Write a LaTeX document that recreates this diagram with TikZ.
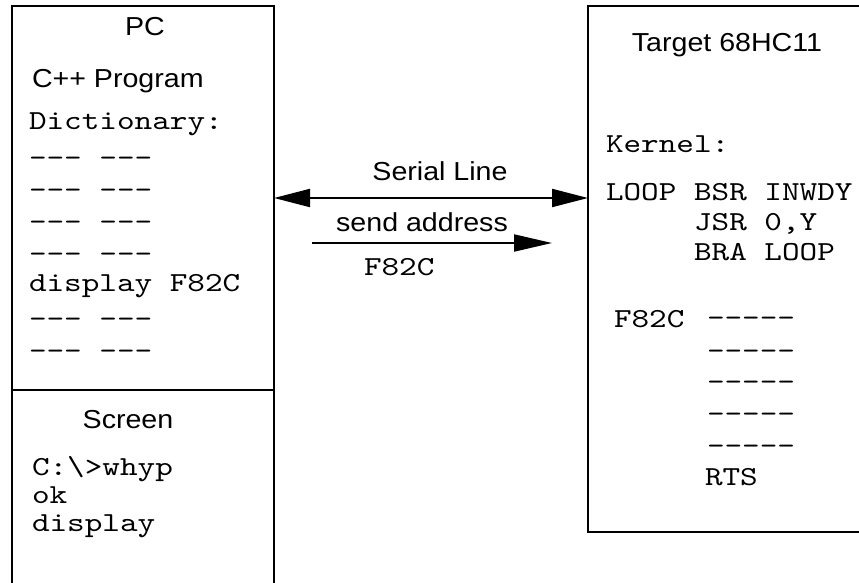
\documentclass[tikz,border=0pt]{standalone}
\usepackage{fontspec}
\setmainfont[FakeStretch=1.1]{Liberation Sans}
\setmonofont[FakeStretch=1.22]{lmmono10-regular.otf}
\usetikzlibrary{arrows.meta}
\newcommand{\dd}{{-}{-}{-}}
\newcommand{\ddd}{{-}{-}{-}{-}{-}}
\begin{document}
\begin{tikzpicture}[x=1pt,y=-1pt, line width=2pt,
  sans/.style={font=\fontsize{26}{32}\selectfont, inner sep=0pt, anchor=base},
  sansl/.style={font=\fontsize{26}{32}\selectfont, inner sep=0pt, anchor=base west},
  mono/.style={font=\ttfamily\fontsize{27.5}{32}\selectfont, inner sep=0pt, anchor=base west}]
\clip (0,0) rectangle (859,583);
\fill[white] (0,0) rectangle (859,583);
% PC box
\draw (12,600) -- (12,6) -- (274,6) -- (274,600);
\draw (12,390) -- (274,390);
% target box
\draw (900,532) -- (588,532) -- (588,6) -- (900,6);
% PC texts
\node[sans] (pc) at (145,36) {PC};
\node[sansl] (cpp) at (31,88) {C++ Program};
\node[mono] (dict) at (28,130) {Dictionary:};
\node[mono] (d1) at (28,166) {\dd{} \dd};
\node[mono] (d2) at (28,198) {\dd{} \dd};
\node[mono] (d3) at (28,230) {\dd{} \dd};
\node[mono] (d4) at (28,262) {\dd{} \dd};
\node[mono] (disp) at (28,291) {display F82C};
\node[mono] (d5) at (28,327) {\dd{} \dd};
\node[mono] (d6) at (28,359) {\dd{} \dd};
% Screen
\node[sans] (scr) at (128,428) {Screen};
\node[mono] (s1) at (31,475) {C:\textbackslash{}>whyp};
\node[mono] (s2) at (31,503) {ok};
\node[mono] (s3) at (31,531) {display};
% target texts
\node[sans] (tgt) at (727,52) {Target 68HC11};
\node[mono] (k) at (605,152) {Kernel:};
\node[mono] (l1) at (605,200) {LOOP BSR INWDY};
\node[mono] (l2) at (605,230) {\phantom{LOOP }JSR 0,Y};
\node[mono] (l3) at (605,260) {\phantom{LOOP }BRA LOOP};
\node[mono] (f) at (613,327) {F82C};
\node[mono] (f1) at (706,326) {\ddd};
\node[mono] (f2) at (706,359) {\ddd};
\node[mono] (f3) at (706,390) {\ddd};
\node[mono] (f4) at (706,422) {\ddd};
\node[mono] (f5) at (706,454) {\ddd};
\node[mono] (rts) at (704,485) {RTS};
% arrows
\coordinate (pcE) at (274,198);
\coordinate (tgW) at (588,198);
\draw[{Triangle[length=36pt,width=18pt]}-{Triangle[length=36pt,width=18pt]}] (pcE) -- (tgW);
\node[sans] (serial) at (440,180) {Serial Line};
\coordinate (sa0) at (312,243);
\coordinate (sa1) at (552,243);
\draw[-{Triangle[length=38pt,width=17pt]}] (sa0) -- (sa1);
\node[sans] (send) at (422,231) {send address};
\node[mono] (addr) at (363,275) {F82C};
\end{tikzpicture}
\end{document}
